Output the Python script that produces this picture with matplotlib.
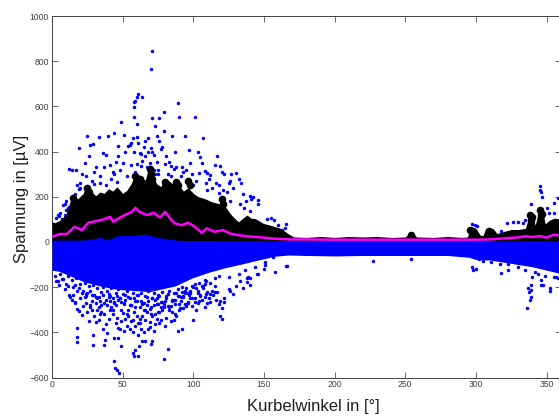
import matplotlib
matplotlib.use('Agg')
import matplotlib.pyplot as plt

# band outlines
black_ang = [0,2,5.6,8,10,12.7,15,18,22,24.5,28,31,34,37,40,43,46,50,53,56,59,62,66,69,71,74,77,80,85,88,90,93,96.4,100,103.5,108,113,117.7,122,125,127,130,132,135,138,141,143.6,147,149.5,154,158,162,167,171,
             180,190,200,210,220,230,240,250,253,255,258,270,280,290,294,296,298,300,303,305,307,312,315,320,325,330,335,336,338,340,342,345,347,349,352,355,360]
black_top = [89,85,96,110,125,177,214,190,214,255,221,205,221,215,236,225,244,215,229,258,303,295,273,340,300,258,245,281,258,281,250,225,240,215,200,192,178,170,163,135,119,100,89,105,119,105,104,92,82,75,67,60,37,22,
             20,24,20,24,22,24,20,22,40,42,22,20,24,20,22,60,66,60,30,28,60,60,37,47,55,55,60,80,133,125,74,155,147,80,96,103,103]
blue_ang = [0,22,28,34,40,46,56,66,73,80,88,100,120,170,360]
blue_top = [8,8,12,20,8,28,28,35,22,15,8,5,3,3,2]
low_ang = [0,5,12.7,22,34,46,69,87,99,110.6,122,134,146,158,167,180,200,220,250,280,295,300,310,320,330,340,350,360]
blue_low = [-125,-130,-150,-175,-195,-210,-220,-195,-160,-135,-115,-98,-80,-63,-58,-60,-62,-60,-60,-60,-68,-78,-80,-90,-100,-110,-125,-140]

# mean curve
mean_ang = [0,5.6,10.4,16,21,25.7,29,36,41,43.4,49,56.4,59,62,67,72,76.4,80,84.7,87,91.7,96.4,101,106,109.4,115,121,127,136.5,148,158,169.5,179,
            200,250,300,310,320,330,335,340,345,350,355,360]
mean_val = [23,35,35,67,52,85,89,99,111,89,111,133,151,133,119,129,108,133,96,82,74,85,67,40,60,45,52,35,26,20,14,11,11,
            10,10,10,11,16,20,25,22,26,19,32,28]

# single points above the band
up_x = [70.5,70,61,60.5,63.7,59,58,58,89,79,58,76,70.5,90,101,49,60,73,43.6,39.6,24.5,51,60,68,66,79,85,94,107,97,
        74,76,78,65,56,54,58,62,70,71,47,33,29,27,19,17,14,12,21,23,26,31,36,38,41,43,45,47,50,52,55,57,61,63,66,68,72,74,77,81,83,84,86,87,92,95,98,
        103,105,106,108,110,112,115,117,119,120,122,125,127,130,132,134,140,141,146,135,137,142,118,121,124,126,128,9,11,8,6,4,16,18,20,22,24,28,30,34,37,
        42,44,46,48,53,56,59,64,67,69,73,75,80,82,88,91,93,96,99,102,104,109,111,113,116,165.6,162.6,165,
        345,345.5,346,347,339,355,358,355,322,326,297,299,301,335,352,333,350,318,330,
        3,5,7,9,10,12,13,10,14,16,19,20,30,34,38,60,63,72,75,84,100,110,118,126,133,136,140,146,152,155,157,160]
up_y = [844,764,653,640,640,625,621,597,617,575,553,550,547,553,553,529,521,515,481,468,467,475,465,462,445,490,470,470,460,405,
        470,445,420,420,440,425,400,395,415,400,425,465,435,430,415,320,320,325,300,350,380,330,395,385,340,310,355,380,350,400,430,460,440,390,380,400,385,355,410,380,355,335,325,400,330,320,350,
        400,375,350,315,305,295,340,380,335,310,300,260,300,305,280,260,205,190,185,210,180,200,250,230,220,270,240,170,150,165,130,120,210,250,240,200,290,270,310,290,330,
        280,300,265,320,290,340,310,360,330,350,300,320,345,300,330,290,310,270,300,270,305,260,280,240,260,81,52,60,
        246,229,221,199,170,174,196,128,84,88,80,75,70,95,130,85,150,50,90,
        105,115,100,120,140,155,130,180,165,190,235,260,255,260,250,345,335,320,300,290,250,230,215,180,170,150,135,170,100,105,95,75]

# black blobs on top of the band
blob_x = [15,17,24.5,26,59,62,69,70,71,80,82,88,89,96.4,98,120,121,254,296,298,309,338,339,340,345,346,347,356]
blob_y = [195,175,240,220,290,280,325,300,280,265,250,265,250,270,250,190,170,32,52,45,50,118,95,110,140,120,125,90]

# single points below the band
low_x = [44,44.3,46,47.4,79,82,61,57,58,58.5,61.5,64,66,70,70.5,48.6,44,17.7,17.7,17.7,29,29,37,37.3,39,46.7,
         13,14,15,16,18,19,20,21,22,24,25,26,27,28,30,31,32,33,34,35,36,38,40,41,42,43,45,46,47,48,49,50,51,52,53,54,55,56,57,59,60,
         61,62,63,64,65,66,67,68,69,71,72,73,74,75,76,77,78,80,81,83,84,85,86,87,88,89,90,92,94,96,98,100,102,104,106,108,110,112,114,116,118,119,120,122,125,128,130,133,135,138,139,140,145,150,
         3,5,7,9,11,12,16,23,27,31,35,39,43,47,51,53,55,57,59,61,63,65,67,69,71,73,75,77,79,81,83,85,87,89,91,93,95,97,99,101,103,105,107,109,111,113,115,117,
         33,37,41,45,49,52,54,56,58,60,62,64,66,68,70,72,74,76,78,82,86,90,94,98,24,28,32,36,40,44,48,165.6,
         336,338.5,339,337.5,339,337,339,346,347.5,352.5,352.5,346,340,317.5,297,298,300,302,323,227,355,357,344,317,323,330,335,342,349,358,311,305,254,
         166,158,156.6,150.7,146,140,137.7,126,122,119,120,111.8,103.5,93,99,90.5,108,115,125,132,143.6,136.5,150.7,108,96.4,101,91.7,
         2,4,6,8,10,11,14,15,17,18,20,21,23,24,26,27,29,30,32,33,35,36,38,39,41,42,44,45,47,48,50,51,53,54,56,57,59,60,62,63,65,66,68,69,71,72,74,75,77,78,80,81,83,84,86,87,89,90,92,93,95,96,98,99,101,102,104,105,107,108,110,112,115,118,
         16,19,22,25,28,31,34,37,40,43,46,49,52,55,58,61,64,67,70,73,76,79,82,85,88,91,94,97,100,103,106,109]
low_y = [-525,-559,-569,-578,-516,-475,-503,-491,-503,-479,-460,-440,-440,-450,-438,-459,-423,-383,-422,-445,-413,-454,-454,-434,-405,-423,
         -245,-255,-235,-270,-295,-305,-250,-325,-285,-270,-310,-350,-280,-300,-330,-355,-300,-345,-320,-280,-385,-365,-340,-300,-290,-320,-360,-335,-380,-385,-350,-315,-395,-340,-370,-300,-385,-350,-400,-370,-330,
         -410,-360,-385,-330,-400,-345,-310,-385,-355,-330,-395,-365,-340,-310,-360,-345,-300,-370,-335,-290,-350,-310,-345,-275,-330,-395,-300,-385,-275,-270,-250,-345,-300,-260,-255,-290,-270,-230,-235,-255,-275,-330,-340,-265,-210,-230,-195,-175,-205,-160,-155,-190,-140,-120,
         -175,-190,-165,-210,-195,-235,-265,-245,-290,-270,-310,-280,-300,-255,-275,-320,-250,-345,-290,-360,-260,-300,-280,-375,-250,-320,-275,-265,-290,-250,-300,-255,-320,-240,-260,-245,-285,-230,-250,-265,-225,-240,-205,-230,-250,-215,-195,-220,
         -290,-320,-260,-280,-300,-255,-330,-280,-310,-260,-340,-275,-300,-260,-320,-280,-250,-310,-265,-285,-255,-240,-225,-215,-230,-260,-250,-235,-245,-270,-250,-108,
         -292,-258,-243,-221,-192,-206,-214,-192,-189,-206,-217,-170,-155,-137,-110,-122,-121,-74,-125,-84,-155,-155,-140,-96,-96,-110,-125,-135,-150,-160,-88,-85,-75,
         -106,-135,-66,-88,-140,-159,-179,-216,-250,-260,-294,-265,-272,-294,-284,-294,-243,-220,-154,-140,-110,-125,-103,-184,-228,-184,-198,
         -150,-175,-140,-165,-185,-150,-170,-200,-160,-215,-185,-225,-180,-240,-195,-215,-190,-235,-205,-245,-220,-200,-255,-215,-240,-205,-265,-225,-210,-250,-230,-270,-215,-245,-280,-225,-260,-235,-290,-225,-270,-240,-215,-295,-250,-225,-275,-235,-290,-220,-260,-240,-215,-285,-225,-255,-210,-275,-220,-240,-205,-265,-225,-195,-250,-205,-180,-235,-195,-170,-220,-180,-160,-150,
         -190,-205,-215,-225,-235,-245,-260,-270,-230,-250,-240,-265,-235,-280,-250,-235,-270,-245,-290,-255,-240,-275,-230,-260,-225,-245,-215,-235,-200,-215,-195,-175]

xticks = [0,50,100,150,200,250,300,350]
yticks = [-600,-400,-200,0,200,400,600,800,1000]

fig = plt.figure(figsize=(5.59,4.16), dpi=100)
ax = fig.add_axes([52/559, 1-377.5/416, 508.7/559, 361.5/416])

ax.plot(up_x, up_y, 'o', color='#0000ff', ms=2.5, mew=0, zorder=2)
ax.plot(blob_x, blob_y, 'o', color='k', ms=5.5, mew=0, zorder=3)
ax.fill_between(black_ang, 0, black_top, color='k', lw=0, zorder=3)
ax.fill_between(low_ang, blue_low, 5, color='#0000ff', lw=0, zorder=4)
ax.fill_between(blue_ang, 0, blue_top, color='#0000ff', lw=0, zorder=4)
ax.plot(low_x, low_y, 'o', color='#0000ff', ms=2.5, mew=0, zorder=4)
ax.plot(mean_ang, mean_val, '-', color='#ff00ff', lw=1.8, zorder=5)

ax.set_xlim(0,360)
ax.set_ylim(-600,1000)
ax.set_xticks(xticks)
ax.set_yticks(yticks)
ax.tick_params(direction='in', top=True, right=True, length=4, width=0.6, labelsize=6.2,
               labelcolor='#404040', color='#505050', pad=2)
for s in ax.spines.values():
    s.set_linewidth(0.7)
    s.set_color('#404040')
for t in ax.get_xticklabels()+ax.get_yticklabels():
    t.set_family('Liberation Sans')

fig.text(313/559, 1-407/416, 'Kurbelwinkel in [°]', ha='center', va='center', fontsize=12, family='Liberation Sans', color='#202020')
fig.text(22/559, 1-199/416, 'Spannung in [µV]', ha='center', va='center', rotation=90, fontsize=12, family='Liberation Sans', color='#202020')

fig.savefig('out.png', dpi=100)
